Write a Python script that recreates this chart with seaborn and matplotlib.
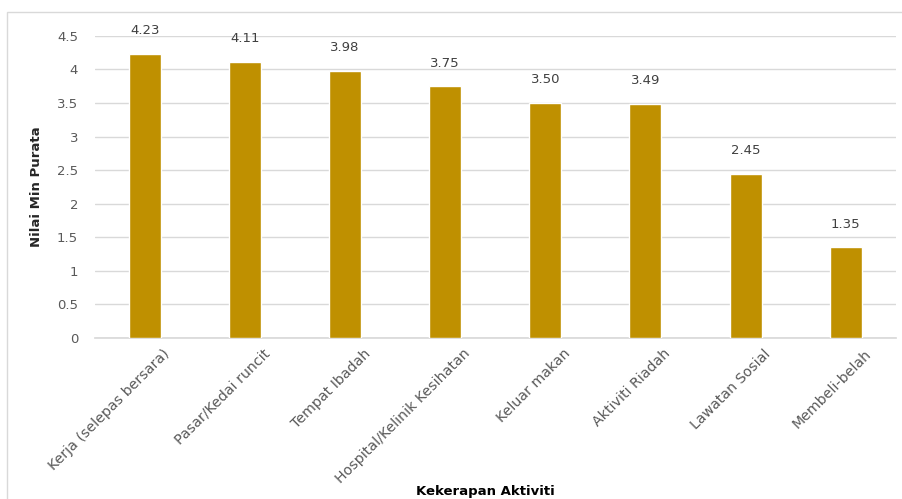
import matplotlib
matplotlib.use("Agg")
import matplotlib.pyplot as plt
import matplotlib.transforms as mtransforms
import seaborn as sns
import pandas as pd
from matplotlib.patches import Rectangle

categories = ["Kerja (selepas bersara)", "Pasar/Kedai runcit", "Tempat Ibadah",
              "Hospital/Kelinik Kesihatan", "Keluar makan", "Aktiviti Riadah",
              "Lawatan Sosial", "Membeli-belah"]
values = [4.23, 4.11, 3.98, 3.75, 3.50, 3.49, 2.45, 1.35]
yticks = [0, 0.5, 1, 1.5, 2, 2.5, 3, 3.5, 4, 4.5]
ytick_labels = ["0", "0.5", "1", "1.5", "2", "2.5", "3", "3.5", "4", "4.5"]

df = pd.DataFrame({"cat": categories, "val": values})

sns.set_theme(style="white")
plt.rcParams['font.family'] = ['DejaVu Sans']

fig = plt.figure(figsize=(9.03, 4.99), dpi=100)
ax = fig.add_axes([0.105, 0.3226, 0.887, 0.6054])

sns.barplot(data=df, x="cat", y="val", color="#BF9000", width=0.32, ax=ax,
            saturation=1, zorder=3)

ax.set_ylim(0, 4.5)
ax.set_xlim(-0.5, len(categories) - 0.5)
ax.set_yticks(yticks)
ax.set_yticklabels(ytick_labels, color="#595959", fontsize=9.5)
ax.yaxis.grid(True, color="#D9D9D9", linewidth=1, zorder=0)
ax.tick_params(axis="y", length=0, pad=12)
ax.tick_params(axis="x", length=0, pad=4)
ax.set_xticks(range(len(categories)))
ax.set_xticklabels(categories, rotation=45, ha="right", rotation_mode="anchor",
                   color="#595959", fontsize=10.2)
offset = mtransforms.ScaledTranslation(18/100, -3/100, fig.dpi_scale_trans)
for lbl in ax.get_xticklabels():
    lbl.set_transform(lbl.get_transform() + offset)
for s in ["top", "right", "left"]:
    ax.spines[s].set_visible(False)
ax.spines["bottom"].set_color("#D9D9D9")

for i, v in enumerate(values):
    ax.annotate(f"{v:.2f}", (i, v), xytext=(0, 12), textcoords="offset points",
                ha="center", va="bottom", color="#404040", fontsize=9.5)

ax.set_ylabel("Nilai Min Purata", fontsize=9.5, fontweight="bold", labelpad=10)
ax.set_xlabel("")
fig.text(485/903, 1 - 491/499, "Kekerapan Aktiviti", fontsize=9.5,
         fontweight="bold", ha="center", va="center", color="black")

fig.patches.append(Rectangle((7/903, -0.1), 1.2, 1 - 12/499 + 0.1,
                             transform=fig.transFigure, fill=False,
                             edgecolor="#D9D9D9", linewidth=1))

fig.savefig("out.png", dpi=100)
